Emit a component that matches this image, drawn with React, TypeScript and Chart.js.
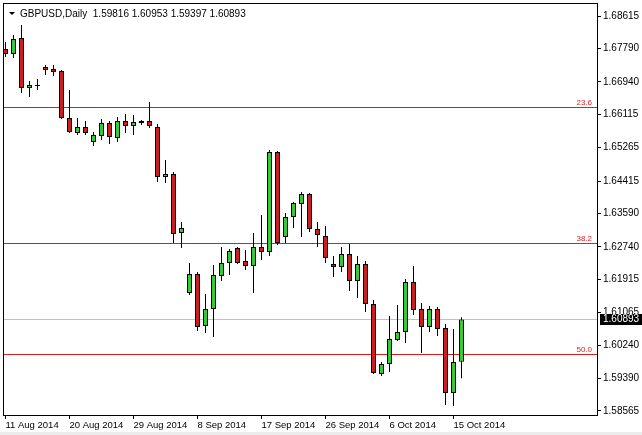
import React, { useEffect, useRef } from 'react';
import { Chart, registerables } from 'chart.js';

Chart.register(...registerables);

// ---------- data ----------
const symbolName = 'GBPUSD,Daily';

const opens = [
  1.67775, 1.67648, 1.68055, 1.66783, 1.66834, 1.67317, 1.67266, 1.67216, 1.66020, 1.65638,
  1.65791, 1.65409, 1.65562, 1.65892, 1.65511, 1.65943, 1.65816, 1.65892, 1.65943, 1.65791,
  1.64518, 1.64595, 1.63093, 1.61567, 1.62050, 1.60727, 1.61160, 1.61999, 1.62330, 1.62712,
  1.62381, 1.62254, 1.62737, 1.62610, 1.65155, 1.62992, 1.63501, 1.63831, 1.64086, 1.63195,
  1.63017, 1.62305, 1.62228, 1.62559, 1.61872, 1.62305, 1.61287, 1.59506, 1.59760, 1.60371,
  1.60574, 1.61847, 1.61160, 1.60702, 1.61160, 1.60676, 1.59022, 1.59816,
];
const highs = [
  1.67953, 1.68132, 1.68386, 1.66961, 1.67012, 1.67368, 1.67368, 1.67241, 1.66732, 1.66020,
  1.65943, 1.65663, 1.65994, 1.65943, 1.66045, 1.66121, 1.66096, 1.65969, 1.66427, 1.65867,
  1.64951, 1.64646, 1.63373, 1.62330, 1.62101, 1.61541, 1.62279, 1.62737, 1.62686, 1.62737,
  1.62661, 1.63093, 1.63551, 1.65205, 1.65180, 1.63602, 1.63882, 1.64137, 1.64111, 1.63373,
  1.63272, 1.62508, 1.62737, 1.62814, 1.62508, 1.62381, 1.61389, 1.59811, 1.60982, 1.61261,
  1.61923, 1.62254, 1.61312, 1.61236, 1.61211, 1.60778, 1.60651, 1.60953,
];
const lows = [
  1.67572, 1.67546, 1.66656, 1.66554, 1.66732, 1.67114, 1.67088, 1.65994, 1.65638, 1.65587,
  1.65587, 1.65307, 1.65460, 1.65358, 1.65409, 1.65638, 1.65587, 1.65842, 1.65765, 1.64391,
  1.64366, 1.62839, 1.62712, 1.61516, 1.60600, 1.60549, 1.60447, 1.61872, 1.62025, 1.62305,
  1.62152, 1.61567, 1.62406, 1.62508, 1.62788, 1.62839, 1.63221, 1.62992, 1.63119, 1.62737,
  1.62330, 1.61974, 1.62101, 1.61618, 1.61440, 1.61083, 1.59506, 1.59455, 1.59557, 1.60345,
  1.60295, 1.61007, 1.60040, 1.60574, 1.60473, 1.58717, 1.58691, 1.59397,
];
const closes = [
  1.67648, 1.68030, 1.66783, 1.66859, 1.66840, 1.67241, 1.67190, 1.66020, 1.65663, 1.65791,
  1.65638, 1.65587, 1.65892, 1.65536, 1.65943, 1.65816, 1.65918, 1.65943, 1.65816, 1.64518,
  1.64595, 1.63068, 1.63221, 1.62050, 1.60702, 1.61160, 1.62025, 1.62330, 1.62635, 1.62330,
  1.62254, 1.62737, 1.62610, 1.65155, 1.62839, 1.63501, 1.63857, 1.64086, 1.63195, 1.63043,
  1.62457, 1.62228, 1.62559, 1.61872, 1.62305, 1.61287, 1.59531, 1.59760, 1.60396, 1.60574,
  1.61847, 1.61134, 1.60702, 1.61160, 1.60651, 1.59022, 1.59811, 1.60893,
];

const xTickIndex = [0, 8, 16, 24, 32, 40, 48, 56];
const xTickLabels = [
  '11 Aug 2014', '20 Aug 2014', '29 Aug 2014', '8 Sep 2014',
  '17 Sep 2014', '26 Sep 2014', '6 Oct 2014', '15 Oct 2014',
];
const yTickValues = [
  1.68615, 1.6779, 1.6694, 1.66115, 1.65265, 1.64415, 1.6359,
  1.6274, 1.61915, 1.61065, 1.6024, 1.5939, 1.58565,
];
const fibLevels = [1.6631, 1.6284, 1.60015];
const fibNames = ['23.6', '38.2', '50.0'];

// ---------- style ----------
const GREEN = 'rgb(50,205,50)';
const RED = 'rgb(204,30,30)';
const FIB_RED = 'rgb(222,30,30)';
const FONT_FAMILY = '"Liberation Sans", Arial, sans-serif';
const X_MIN = -0.3125;
const X_MAX = 73.9375;
const Y_MIN = 1.58463;
const Y_MAX = 1.68946;

const fmt = (v: number) => v.toFixed(5);

const decor = {
  id: 'decor',
  beforeDraw(chart: any) {
    const ctx = chart.ctx;
    ctx.save();
    ctx.fillStyle = '#ffffff';
    ctx.fillRect(0, 0, chart.width, chart.height);
    ctx.fillStyle = '#ececec';
    ctx.fillRect(0, 432, chart.width, 3);
    ctx.restore();
  },
  beforeDatasetsDraw(chart: any) {
    const ctx = chart.ctx;
    const y = chart.scales.y;
    const { left, right } = chart.chartArea;
    ctx.save();
    const last = closes[closes.length - 1];
    const py = Math.round(y.getPixelForValue(last));
    ctx.fillStyle = '#c0c0c0';
    ctx.fillRect(left, py, right - left, 1);
    ctx.fillStyle = FIB_RED;
    fibLevels.forEach((lv) => {
      const p = Math.round(y.getPixelForValue(lv));
      ctx.fillRect(left, p, right - left, 1);
    });
    ctx.restore();
  },
  afterDraw(chart: any) {
    const ctx = chart.ctx;
    const y = chart.scales.y;
    const { left, top, right, bottom } = chart.chartArea;
    ctx.save();
    // frame
    ctx.strokeStyle = '#000';
    ctx.lineWidth = 1;
    ctx.strokeRect(left + 0.5, top + 0.5, right - left, bottom - top);
    // fib labels
    ctx.font = `8px ${FONT_FAMILY}`;
    ctx.fillStyle = FIB_RED;
    ctx.textAlign = 'right';
    ctx.textBaseline = 'alphabetic';
    fibLevels.forEach((lv, k) => {
      const p = Math.round(y.getPixelForValue(lv));
      ctx.fillText(fibNames[k], right - 5, p - 2);
    });
    // header
    const n = closes.length - 1;
    ctx.fillStyle = '#000';
    ctx.beginPath();
    ctx.moveTo(9, 12);
    ctx.lineTo(15, 12);
    ctx.lineTo(12, 15);
    ctx.closePath();
    ctx.fill();
    ctx.font = `10px ${FONT_FAMILY}`;
    ctx.textAlign = 'left';
    ctx.fillText(
      `${symbolName}  ${fmt(opens[n])} ${fmt(highs[n])} ${fmt(lows[n])} ${fmt(closes[n])}`,
      20,
      17
    );
    // current price box
    const cp = Math.round(y.getPixelForValue(closes[n]));
    ctx.fillStyle = '#000';
    ctx.fillRect(right + 3, cp - 5, 42, 11);
    ctx.fillStyle = '#fff';
    ctx.textBaseline = 'middle';
    ctx.fillText(fmt(closes[n]), right + 6, cp + 0.5);
    ctx.restore();
  },
};

export default function App() {
  const ref = useRef<HTMLCanvasElement>(null);

  useEffect(() => {
    const canvas = ref.current;
    if (!canvas) return;
    const idx = closes.map((_, i) => i);
    const bodyData = idx.map((i) => ({ x: i, y: [opens[i], closes[i]] }));
    const wickData = idx.map((i) => ({ x: i, y: [lows[i], highs[i]] }));
    const bodyColors = idx.map((i) => (closes[i] >= opens[i] ? GREEN : RED));

    const chart = new Chart(canvas, {
      type: 'bar',
      data: {
        datasets: [
          {
            label: 'body',
            data: bodyData as any,
            backgroundColor: bodyColors,
            borderColor: '#000',
            borderWidth: 1,
            borderSkipped: false,
            barThickness: 5,
            maxBarThickness: 5,
            minBarLength: 1,
            grouped: false,
            inflateAmount: 0,
            order: 0,
          } as any,
          {
            label: 'wick',
            data: wickData as any,
            backgroundColor: '#000',
            borderWidth: 0,
            barThickness: 1,
            maxBarThickness: 1,
            grouped: false,
            inflateAmount: 0,
            order: 1,
          } as any,
        ],
      },
      options: {
        responsive: false,
        animation: false,
        devicePixelRatio: 1,
        layout: { padding: { left: 3, top: 3, right: 0, bottom: 0 } },
        plugins: {
          legend: { display: false },
          tooltip: { enabled: false },
          title: { display: false },
        },
        scales: {
          x: {
            type: 'linear',
            min: X_MIN,
            max: X_MAX,
            offset: false,
            grid: {
              drawOnChartArea: false,
              drawTicks: true,
              tickLength: 4,
              color: '#000',
              offset: false,
            },
            border: { display: true, color: '#000' },
            ticks: {
              autoSkip: false,
              maxRotation: 0,
              minRotation: 0,
              align: 'start',
              padding: 1,
              color: '#000',
              font: { family: FONT_FAMILY, size: 9.5 },
              callback: (v: any) => {
                const k = xTickIndex.indexOf(Number(v));
                return k >= 0 ? xTickLabels[k] : '';
              },
            },
            afterBuildTicks: (s: any) => {
              s.ticks = xTickIndex.map((v) => ({ value: v }));
            },
            afterFit: (s: any) => {
              s.height = 20;
              s.paddingLeft = 0;
              s.paddingRight = 0;
            },
          } as any,
          y: {
            type: 'linear',
            position: 'right',
            min: Y_MIN,
            max: Y_MAX,
            grid: {
              drawOnChartArea: false,
              drawTicks: true,
              tickLength: 4,
              color: '#000',
            },
            border: { display: true, color: '#000' },
            ticks: {
              autoSkip: false,
              padding: 2,
              color: '#000',
              font: { family: FONT_FAMILY, size: 10 },
              callback: (v: any) => Number(v).toFixed(5),
            },
            afterBuildTicks: (s: any) => {
              s.ticks = yTickValues.map((v) => ({ value: v }));
            },
            afterFit: (s: any) => {
              s.width = 45;
              s.paddingTop = 0;
              s.paddingBottom = 0;
            },
          } as any,
        },
      },
      plugins: [decor],
    });
    return () => chart.destroy();
  }, []);

  return (
    <div style={{ position: 'fixed', left: 0, top: 0, width: 642, height: 435, background: '#fff' }}>
      <canvas ref={ref} width={642} height={435} style={{ display: 'block', width: 642, height: 435 }} />
    </div>
  );
}
